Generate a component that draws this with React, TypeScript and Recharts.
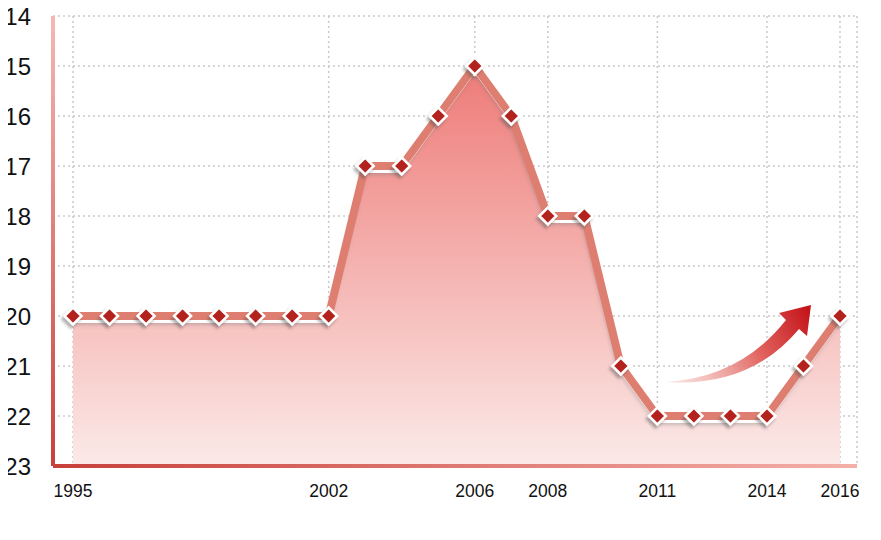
import React from 'react';
import { ComposedChart, Area, Line, XAxis, YAxis, CartesianGrid } from 'recharts';

// yearly values (axis reversed: 14 at the top)
const years = [1995, 1996, 1997, 1998, 1999, 2000, 2001, 2002, 2003, 2004, 2005, 2006, 2007, 2008, 2009, 2010, 2011, 2012, 2013, 2014, 2015, 2016];
const ranks = [20, 20, 20, 20, 20, 20, 20, 20, 17, 17, 16, 15, 16, 18, 18, 21, 22, 22, 22, 22, 21, 20];
const xTicks = [1995, 2002, 2006, 2008, 2011, 2014, 2016];
const yTicks = [14, 15, 16, 17, 18, 19, 20, 21, 22, 23];

const data = years.map((year, i) => ({ year, value: ranks[i] }));

const FONT = 'Arial, "Liberation Sans", sans-serif';

const Diamond = (props: any) => {
    const { cx, cy, index } = props;
    if (cx == null || cy == null) return <g key={`d-${index}`} />;
    const r = 8.5;
    return (
        <path
            key={`d-${index}`}
            d={`M${cx},${cy - r} L${cx + r},${cy} L${cx},${cy + r} L${cx - r},${cy} Z`}
            fill="#b3221d"
            stroke="#ffffff"
            strokeWidth={2.5}
            filter="url(#dotShadow)"
        />
    );
};

const YTick = ({ x, y, payload }: any) => (
    <text x={x} y={y} textAnchor="end" dominantBaseline="central" fontSize={24} fontFamily={FONT} fill="#111111">
        {payload.value}
    </text>
);

const XTick = ({ x, y, payload }: any) => (
    <text x={x} y={y} textAnchor="middle" dominantBaseline="central" fontSize={17.5} fontFamily={FONT} fill="#111111">
        {payload.value}
    </text>
);

export default function App() {
    // pulled up/left by the body margin so chart pixels match page pixels
    return (
        <div style={{ position: 'relative', width: 881, height: 540, margin: '-8px 0 0 -8px', fontFamily: FONT }}>
            <ComposedChart width={881} height={540} data={data} margin={{ top: 16, right: 24, left: 0, bottom: 44 }}>
                <defs>
                    <linearGradient id="areaFill" x1="0" y1="0" x2="0" y2="1">
                        <stop offset="0%" stopColor="#ee7b78" />
                        <stop offset="100%" stopColor="#fbeae8" />
                    </linearGradient>
                    <linearGradient id="yAxisGrad" gradientUnits="userSpaceOnUse" x1="0" y1="16" x2="0" y2="468">
                        <stop offset="0%" stopColor="#f6b8b3" />
                        <stop offset="100%" stopColor="#c8403a" />
                    </linearGradient>
                    <linearGradient id="xAxisGrad" gradientUnits="userSpaceOnUse" x1="53" y1="0" x2="857" y2="0">
                        <stop offset="0%" stopColor="#c8403a" />
                        <stop offset="100%" stopColor="#f4b0a9" />
                    </linearGradient>
                    <filter id="lineShadow" x="-5%" y="-10%" width="110%" height="130%">
                        <feMorphology in="SourceAlpha" operator="erode" radius="1.5" result="thin" />
                        <feOffset in="thin" dy="5" result="off" />
                        <feGaussianBlur in="off" stdDeviation="2" result="blur" />
                        <feOffset in="blur" dx="-1" dy="1" result="blurOff" />
                        <feFlood floodColor="#777777" floodOpacity="0.55" />
                        <feComposite in2="blurOff" operator="in" result="shadow" />
                        <feFlood floodColor="#ffffff" />
                        <feComposite in2="off" operator="in" result="white" />
                        <feMerge>
                            <feMergeNode in="shadow" />
                            <feMergeNode in="white" />
                            <feMergeNode in="SourceGraphic" />
                        </feMerge>
                    </filter>
                    <filter id="dotShadow" x="-50%" y="-50%" width="200%" height="200%">
                        <feDropShadow dx="-2" dy="3" stdDeviation="1.5" floodColor="#555555" floodOpacity="0.45" />
                    </filter>
                </defs>
                <CartesianGrid stroke="#c9c9c9" strokeWidth={1.5} strokeDasharray="2 3" />
                <XAxis
                    dataKey="year"
                    type="number"
                    domain={[1995, 2016]}
                    ticks={xTicks}
                    interval={0}
                    padding={{ left: 20, right: 17 }}
                    height={30}
                    tickSize={0}
                    tickMargin={25}
                    axisLine={{ stroke: 'url(#xAxisGrad)', strokeWidth: 4 }}
                    tick={<XTick />}
                />
                <YAxis
                    type="number"
                    reversed
                    domain={[14, 23]}
                    ticks={yTicks}
                    interval={0}
                    width={53}
                    tickSize={0}
                    tickMargin={22}
                    axisLine={{ stroke: 'url(#yAxisGrad)', strokeWidth: 4 }}
                    tick={<YTick />}
                />
                <Area
                    type="linear"
                    dataKey="value"
                    baseValue={23}
                    fill="url(#areaFill)"
                    fillOpacity={1}
                    stroke="none"
                    isAnimationActive={false}
                />
                <Line
                    type="linear"
                    dataKey="value"
                    stroke="#de7e6f"
                    strokeWidth={8}
                    strokeLinejoin="round"
                    filter="url(#lineShadow)"
                    dot={Diamond}
                    activeDot={false}
                    isAnimationActive={false}
                />
            </ComposedChart>
            {/* decorative trend arrow */}
            <svg width={881} height={540} style={{ position: 'absolute', left: 0, top: 0, pointerEvents: 'none' }}>
                <defs>
                    <linearGradient id="arrowGrad" gradientUnits="userSpaceOnUse" x1="663" y1="383" x2="808" y2="308">
                        <stop offset="0%" stopColor="#f4c4c0" stopOpacity={0.4} />
                        <stop offset="60%" stopColor="#e26661" />
                        <stop offset="100%" stopColor="#c4141a" />
                    </linearGradient>
                </defs>
                <path
                    d="M665,382 Q740,378 786,320 L779,313 L811,305 L807,336 L799,329 Q750,388 665,382 Z"
                    fill="url(#arrowGrad)"
                />
            </svg>
        </div>
    );
}
